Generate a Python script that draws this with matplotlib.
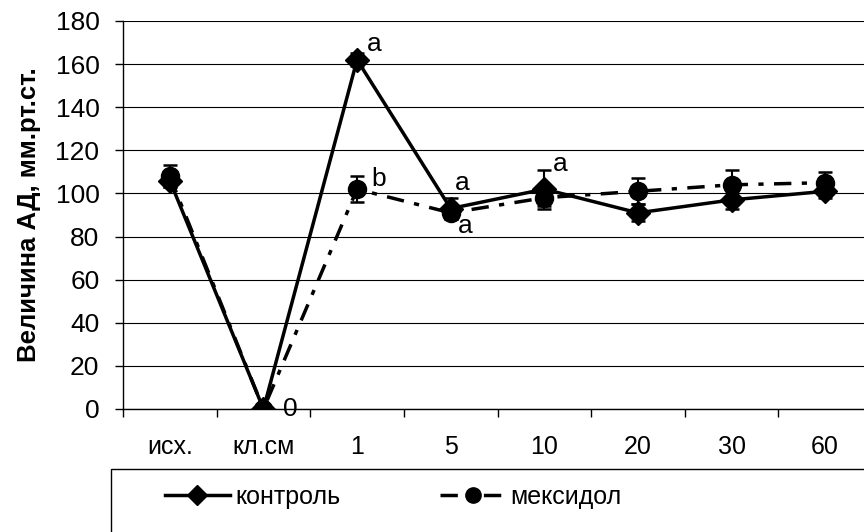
import numpy as np
import matplotlib as mpl
import matplotlib.pyplot as plt
from matplotlib.patches import Rectangle
from matplotlib.lines import Line2D

mpl.rcParams["font.family"] = ["Liberation Sans", "DejaVu Sans"]
mpl.rcParams["axes.unicode_minus"] = False

categories = ["исх.", "кл.см", "1", "5", "10", "20", "30", "60"]

control = [106, 0, 162, 93, 102, 91, 97, 101]
control_err = [3, 0, 3, 5, 9, 4, 4, 3]

mexidol = [108, 0, 102, 91, 98, 101, 104, 105]
mexidol_err = [5, 0, 6, 3, 4, 6, 7, 5]

# (category index, value, text, dx px, dy px)
labels = [
    (1, 0, "0", 20, 0),
    (2, 162, "a", 10, 16),
    (2, 102, "b", 14, 10),
    (3, 93, "a", 4, 26),
    (3, 91, "a", 7, -13),
    (4, 102, "a", 9, 25),
]

dashdot = (0, (5, 3, 1.5, 3))

fig = plt.figure(figsize=(8.64, 5.32), dpi=100)
ax = fig.add_axes([123 / 864, 1 - 409 / 532, 749 / 864, 388 / 532])

x = np.arange(len(categories))

ax.errorbar(x, control, yerr=control_err, color="black", lw=2.5,
            marker="D", markersize=12, elinewidth=1.5, capsize=5,
            capthick=1.8, zorder=4)
ax.errorbar(x, mexidol, yerr=mexidol_err, color="black", lw=2.5,
            linestyle=dashdot, marker="o", markersize=13,
            elinewidth=1.5, capsize=5, capthick=1.8, zorder=3)

for i, v, t, dx, dy in labels:
    ax.annotate(t, (x[i], v), xytext=(dx, dy), textcoords="offset pixels",
                ha="left", va="center", fontsize=19)

ax.set_xlim(-0.5, len(categories) - 0.5)
ax.set_ylim(0, 180)
ax.set_yticks(np.arange(0, 181, 20))
ax.tick_params(axis="y", labelsize=19, length=6, width=1, direction="out", pad=11)
ax.set_xticks(x)
ax.set_xticklabels(categories, fontsize=18)
ax.set_xticks(np.arange(-0.5, len(categories)), minor=True)
ax.tick_params(axis="x", which="major", length=0, pad=19)
ax.tick_params(axis="x", which="minor", length=6, width=1, direction="out")

ax.grid(axis="y", color="black", lw=0.8)
ax.set_axisbelow(True)
for s in ["top", "right"]:
    ax.spines[s].set_visible(False)
ax.spines["left"].set_linewidth(1)
ax.spines["bottom"].set_linewidth(1)

ax.set_ylabel("Величина АД, мм.рт.ст.", fontsize=18.5, fontweight="bold", labelpad=10)

fig.patches.append(Rectangle((111 / 864, -0.1), 1.0, (532 - 469) / 532 + 0.1,
                             transform=fig.transFigure, fill=False,
                             edgecolor="black", lw=1))
handles = [
    Line2D([], [], color="black", lw=2.5, marker="D", markersize=10),
    Line2D([], [], color="black", lw=2.5, linestyle=dashdot, marker="o", markersize=11),
]
fig.legend(handles, ["контроль", "мексидол"], loc="center",
           bbox_to_anchor=(0.455, (532 - 497) / 532), ncol=2,
           frameon=False, prop={"size": 18},
           handlelength=2.6, handletextpad=0.2, columnspacing=4.0)

fig.savefig("out.png", dpi=100)
